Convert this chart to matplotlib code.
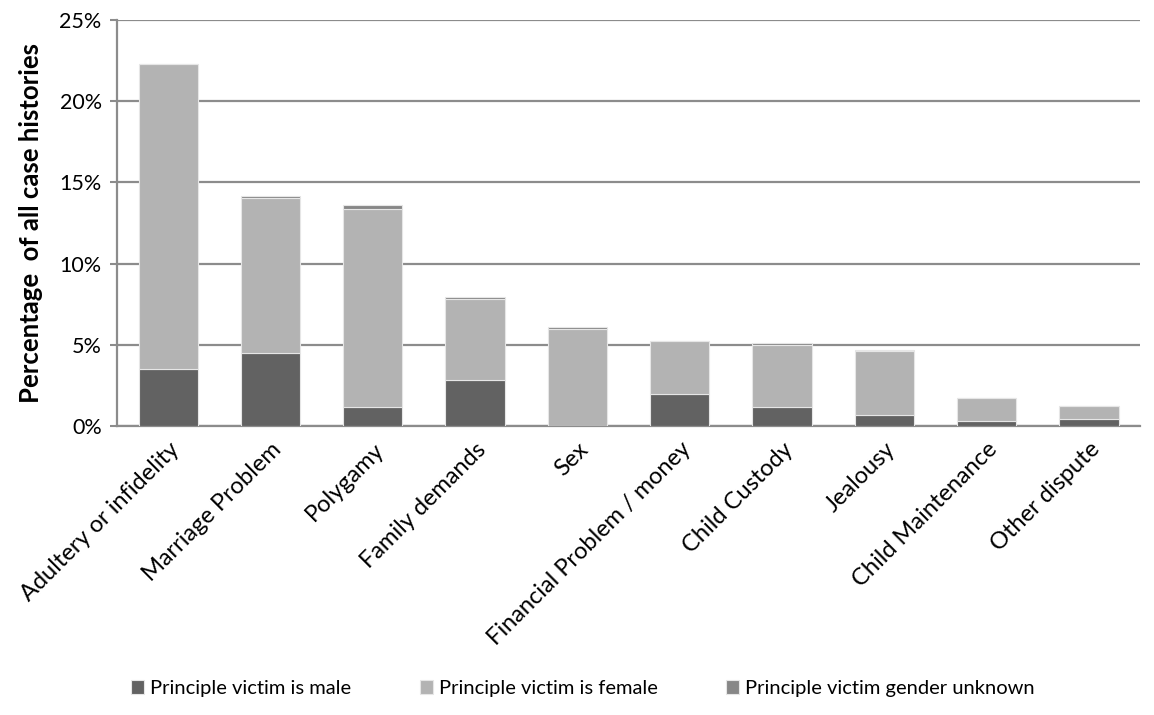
import matplotlib.pyplot as plt
import numpy as np
from matplotlib.ticker import FuncFormatter

categorias = ['Adultery or infidelity', 'Marriage Problem', 'Polygamy', 'Family demands',
              'Sex', 'Financial Problem / money', 'Child Custody', 'Jealousy',
              'Child Maintenance', 'Other dispute']

vitima_masculina = [3.5, 4.5, 1.17, 2.83, 0.0, 2.0, 1.17, 0.68, 0.31, 0.41]
vitima_feminina = [18.78, 9.56, 12.19, 4.97, 6.01, 3.27, 3.83, 3.93, 1.45, 0.86]
vitima_desconhecida = [0.0, 0.12, 0.27, 0.16, 0.1, 0.0, 0.1, 0.08, 0.0, 0.0]

series = ['Principle victim is male', 'Principle victim is female',
          'Principle victim gender unknown']
cores = ['#626262', '#b3b3b3', '#878787']

plt.rcParams['font.family'] = ['Lato', 'DejaVu Sans']

fig = plt.figure(figsize=(11.54, 7.15), dpi=100)
ax = fig.add_axes([0.1014, 0.404, 0.8866, 0.568])

x = np.arange(len(categorias))
base = np.zeros(len(categorias))
for valores, nome, cor in zip([vitima_masculina, vitima_feminina, vitima_desconhecida], series, cores):
    ax.bar(x, valores, width=0.58, bottom=base, color=cor, label=nome,
           edgecolor='#e6e6e6', linewidth=0.8, zorder=3)
    base = base + np.array(valores)

ax.set_xlim(-0.5, len(categorias) - 0.5)
ax.set_ylim(0, 25)
ax.set_yticks([0, 5, 10, 15, 20, 25])
ax.yaxis.set_major_formatter(FuncFormatter(lambda v, p: '%d%%' % v))
ax.grid(axis='y', color='#8c8c8c', linewidth=1.6, zorder=0)

ax.set_xticks(x)
ax.set_xticklabels(categorias, rotation=45, ha='right', rotation_mode='anchor', fontsize=17)
ax.tick_params(axis='x', length=0, pad=9)
ax.tick_params(axis='y', length=5, width=1.5, color='#8c8c8c', labelsize=15.5, pad=6)

for lado in ['top', 'right']:
    ax.spines[lado].set_visible(False)
for lado in ['left', 'bottom']:
    ax.spines[lado].set_color('#8c8c8c')
    ax.spines[lado].set_linewidth(1.6)

ax.set_ylabel('Percentage  of all case histories', fontsize=18.5, fontweight='bold', labelpad=12)

fig.legend(loc='lower center', bbox_to_anchor=(0.505, 0.0), ncol=3, frameon=False,
           fontsize=14.5, handlelength=0.65, handleheight=0.65, handletextpad=0.3,
           columnspacing=3.4)

fig.savefig('out.png', dpi=100)
